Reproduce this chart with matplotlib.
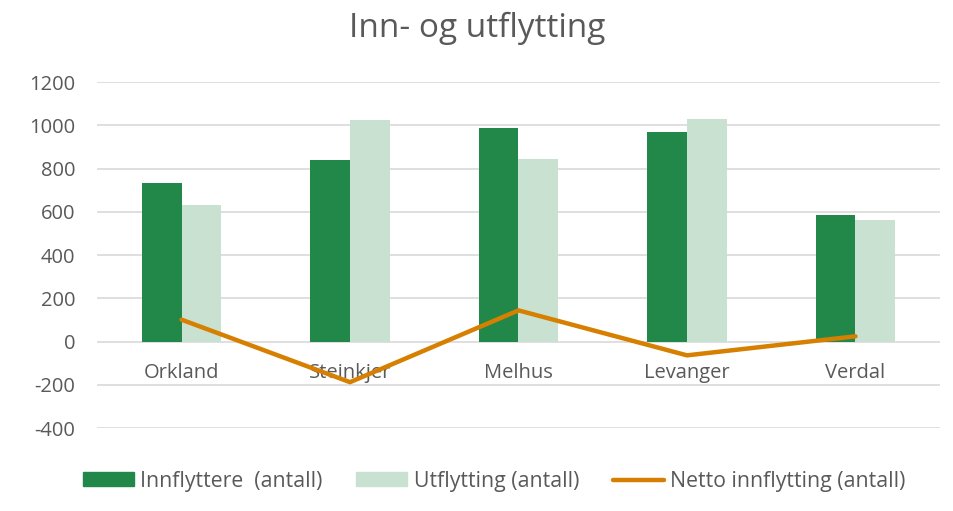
import numpy as np
import matplotlib.pyplot as plt
from matplotlib.patches import Patch
from matplotlib.lines import Line2D

kommuner = ['Orkland', 'Steinkjer', 'Melhus', 'Levanger', 'Verdal']
innflyttere = [731, 838, 988, 967, 587]
utflytting = [630, 1026, 844, 1031, 563]
netto = [101, -188, 144, -64, 24]

yticks = [-400, -200, 0, 200, 400, 600, 800, 1000, 1200]

plt.rcParams['font.family'] = ['Open Sans', 'DejaVu Sans']
grey = '#595959'
dark = '#22884A'
light = '#C9E1D1'
orange = '#D67F00'

fig = plt.figure(figsize=(9.54, 5.11), dpi=100)
ax = fig.add_axes([0.102, 0.1624, 0.883, 0.6771])

x = np.arange(len(kommuner))
w = 0.237
ax.bar(x - w/2, innflyttere, w, color=dark, zorder=2)
ax.bar(x + w/2, utflytting, w, color=light, zorder=2)
ax.plot(x, netto, color=orange, lw=3.2, solid_capstyle='round', zorder=3)

ax.set_xlim(-0.5, len(kommuner) - 0.5)
ax.set_ylim(-400, 1200)
ax.set_yticks(yticks)
ax.set_yticklabels([str(v) for v in yticks])
ax.tick_params(axis='y', length=0, pad=16, labelsize=14.5, labelcolor=grey)
ax.set_xticks([])
for v in yticks:
    ax.axhline(v, color='#D9D9D9', lw=1.2, zorder=1)
for s in ax.spines.values():
    s.set_visible(False)

for xi, name in zip(x, kommuner):
    ax.text(xi, -145, name, ha='center', va='center', fontsize=14.5, color=grey, zorder=2)

fig.text(0.5, 0.945, 'Inn- og utflytting', ha='center', va='center', fontsize=24, color=grey)

handles = [Patch(color=dark), Patch(color=light),
           Line2D([0], [0], color=orange, lw=3.2, solid_capstyle='round')]
labels = ['Innflyttere  (antall)', 'Utflytting (antall)', 'Netto innflytting (antall)']
fig.legend(handles, labels, loc='center', bbox_to_anchor=(0.518, 0.058), ncol=3,
           frameon=False, fontsize=15.3, labelcolor=grey, handlelength=2.4,
           handleheight=0.62, handletextpad=0.3, columnspacing=1.6)

fig.savefig('out.png', dpi=100)
